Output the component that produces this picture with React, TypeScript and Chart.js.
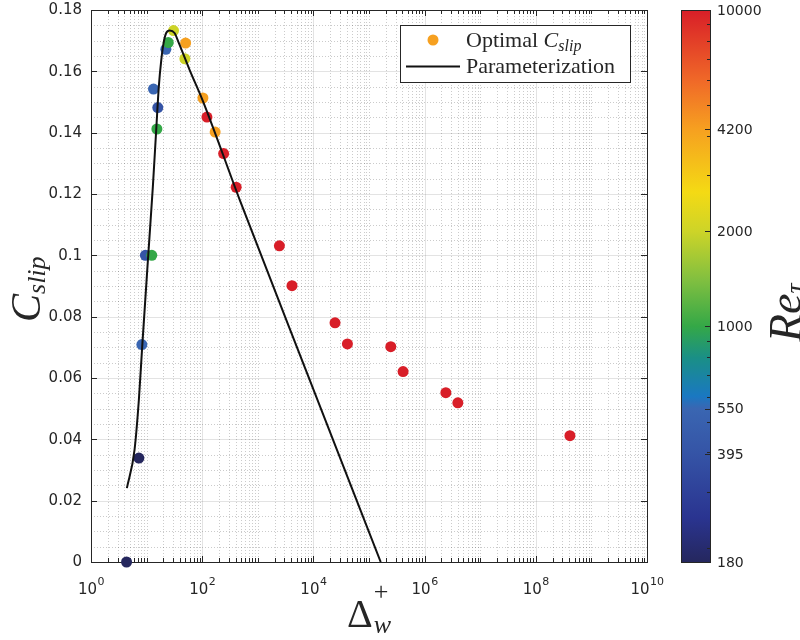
import React, { useEffect, useRef } from 'react';
import { Chart, registerables } from 'chart.js';
Chart.register(...registerables);

// ---- data ----
const deltaW = [4.36, 7.26, 8.22, 9.5, 12.4, 15.3, 15.9, 13.3, 22.2, 24.5, 30.5, 50.3, 48.8, 103, 121.6, 171, 243, 408, 2445, 4120, 24500, 40900, 246500, 410000, 2.41e6, 3.96e6, 4.11e8];
const cSlip = [0, 0.0339, 0.0709, 0.1, 0.1, 0.1412, 0.1482, 0.1542, 0.1672, 0.1694, 0.1733, 0.1692, 0.1641, 0.1513, 0.1451, 0.1402, 0.1332, 0.1222, 0.1031, 0.0901, 0.078, 0.0711, 0.0702, 0.0621, 0.0552, 0.0519, 0.0412];
const reTau = [180, 180, 550, 395, 1000, 1000, 395, 550, 550, 1000, 2000, 4200, 2000, 4200, 10000, 4200, 10000, 10000, 10000, 10000, 10000, 10000, 10000, 10000, 10000, 10000, 10000];

const paramX = [4.42, 6.07, 7.26, 8.34, 10.7, 12.97, 14.9, 16.6, 18.4, 20.2, 22.5, 25.9, 31.8, 38.1, 59.3, 100.5, 471, 8570, 162500];
const paramC = [0.0241, 0.0366, 0.0529, 0.0703, 0.1, 0.1225, 0.141, 0.1551, 0.1638, 0.1692, 0.1725, 0.1733, 0.1725, 0.1692, 0.1605, 0.1508, 0.1182, 0.0594, 0];

const yTicks = [0, 0.02, 0.04, 0.06, 0.08, 0.1, 0.12, 0.14, 0.16, 0.18];
const yTickLabels = ['0', '0.02', '0.04', '0.06', '0.08', '0.1', '0.12', '0.14', '0.16', '0.18'];
const xTickExps = [0, 2, 4, 6, 8, 10];
const cbTicks = [180, 395, 550, 1000, 2000, 4200, 10000];
const cbMin = 180;
const cbMax = 10000;

// colormap stops (fraction along log colorbar, colour)
const cmapPos = [0, 0.08, 0.196, 0.278, 0.3, 0.37, 0.427, 0.51, 0.599, 0.67, 0.784, 0.87, 1];
const cmapCol = ['#25275e', '#2a3490', '#3554a6', '#3a66b2', '#1a78c2', '#1a8f86', '#34a847', '#80bf40', '#cdd428', '#f4da14', '#f6a020', '#f06a28', '#d81e28'];

const legendLabels = ['Optimal ', 'Parameterization'];

function hexToRgb(h: string) {
  const n = parseInt(h.slice(1), 16);
  return [(n >> 16) & 255, (n >> 8) & 255, n & 255];
}
function cmap(re: number) {
  const t = (Math.log10(re) - Math.log10(cbMin)) / (Math.log10(cbMax) - Math.log10(cbMin));
  for (let i = 0; i < cmapPos.length - 1; i++) {
    if (t <= cmapPos[i + 1]) {
      const f = (t - cmapPos[i]) / (cmapPos[i + 1] - cmapPos[i]);
      const a = hexToRgb(cmapCol[i]);
      const b = hexToRgb(cmapCol[i + 1]);
      const c = a.map((v, k) => Math.round(v + (b[k] - v) * f));
      return `rgb(${c[0]},${c[1]},${c[2]})`;
    }
  }
  return cmapCol[cmapCol.length - 1];
}

const TXT = '#262626';
const SERIF = '"Liberation Serif", "DejaVu Serif", serif';
const SANS = '"DejaVu Sans", sans-serif';

const decor = {
  id: 'decor',
  beforeDatasetsDraw(chart: any) {
    const ctx = chart.ctx;
    const a = chart.chartArea;
    const xs = chart.scales.x;
    const ys = chart.scales.y;
    ctx.save();
    // minor grid
    ctx.strokeStyle = 'rgba(38,38,38,0.24)';
    ctx.lineWidth = 1;
    ctx.setLineDash([1, 2]);
    for (let e = 0; e < 10; e++) {
      for (let k = 1; k <= 9; k++) {
        if (k === 1 && e % 2 === 0) continue;
        const px = Math.round(xs.getPixelForValue(k * Math.pow(10, e))) + 0.5;
        ctx.beginPath(); ctx.moveTo(px, a.top); ctx.lineTo(px, a.bottom); ctx.stroke();
      }
    }
    for (let i = 1; i < 36; i++) {
      if (i % 4 === 0) continue;
      const py = Math.round(ys.getPixelForValue(i * 0.005)) + 0.5;
      ctx.beginPath(); ctx.moveTo(a.left, py); ctx.lineTo(a.right, py); ctx.stroke();
    }
    ctx.setLineDash([]);
    // major grid
    ctx.strokeStyle = 'rgba(38,38,38,0.13)';
    for (const e of xTickExps) {
      const px = Math.round(xs.getPixelForValue(Math.pow(10, e))) + 0.5;
      ctx.beginPath(); ctx.moveTo(px, a.top); ctx.lineTo(px, a.bottom); ctx.stroke();
    }
    for (const v of yTicks) {
      const py = Math.round(ys.getPixelForValue(v)) + 0.5;
      ctx.beginPath(); ctx.moveTo(a.left, py); ctx.lineTo(a.right, py); ctx.stroke();
    }
    // ticks
    ctx.strokeStyle = TXT;
    for (let e = 0; e <= 10; e++) {
      for (let k = 1; k <= 9; k++) {
        if (e === 10 && k > 1) break;
        const major = k === 1 && e % 2 === 0;
        const len = major ? 6 : 4;
        const px = Math.round(xs.getPixelForValue(k * Math.pow(10, e))) + 0.5;
        ctx.beginPath();
        ctx.moveTo(px, a.bottom); ctx.lineTo(px, a.bottom - len);
        ctx.moveTo(px, a.top); ctx.lineTo(px, a.top + len);
        ctx.stroke();
      }
    }
    for (const v of yTicks) {
      const py = Math.round(ys.getPixelForValue(v)) + 0.5;
      ctx.beginPath();
      ctx.moveTo(a.left, py); ctx.lineTo(a.left + 6, py);
      ctx.moveTo(a.right, py); ctx.lineTo(a.right - 6, py);
      ctx.stroke();
    }
    // frame
    ctx.strokeStyle = TXT;
    ctx.lineWidth = 1;
    ctx.strokeRect(Math.round(a.left) + 0.5, Math.round(a.top) + 0.5, Math.round(a.right - a.left), Math.round(a.bottom - a.top));
    ctx.restore();
  },
  afterDraw(chart: any) {
    const ctx = chart.ctx;
    const a = chart.chartArea;
    const xs = chart.scales.x;
    const ys = chart.scales.y;
    const cb = chart.scales.cb;
    ctx.save();
    ctx.fillStyle = TXT;
    // y tick labels
    ctx.font = `15px ${SANS}`;
    ctx.textAlign = 'right';
    ctx.textBaseline = 'middle';
    yTicks.forEach((v, i) => {
      ctx.fillText(yTickLabels[i], a.left - 9, ys.getPixelForValue(v) + 0.5);
    });
    // x tick labels with superscripts
    ctx.textBaseline = 'alphabetic';
    ctx.textAlign = 'left';
    for (const e of xTickExps) {
      const px = xs.getPixelForValue(Math.pow(10, e));
      ctx.font = `15px ${SANS}`;
      const w1 = ctx.measureText('10').width;
      ctx.font = `11px ${SANS}`;
      const w2 = ctx.measureText(String(e)).width;
      const x0 = px - (w1 + w2) / 2;
      ctx.font = `15px ${SANS}`;
      ctx.fillText('10', x0, 594);
      ctx.font = `11px ${SANS}`;
      ctx.fillText(String(e), x0 + w1 + 0.5, 585);
    }
    // x title  Δ_w^+
    ctx.font = `40px ${SERIF}`;
    const wD = ctx.measureText('\u0394').width;
    ctx.fillText('\u0394', 347, 627);
    ctx.font = `italic 26px ${SERIF}`;
    ctx.fillText('w', 347 + wD + 1, 633);
    ctx.font = `26px ${SERIF}`;
    ctx.fillText('+', 347 + wD + 1, 600);
    // y title C_slip
    ctx.save();
    ctx.translate(40, 322);
    ctx.rotate(-Math.PI / 2);
    ctx.font = `italic 42px ${SERIF}`;
    const wC = ctx.measureText('C').width;
    ctx.fillText('C', 0, 0);
    ctx.font = `italic 26px ${SERIF}`;
    ctx.fillText('slip', wC, 5);
    ctx.restore();
    // colorbar
    const top = cb.getPixelForValue(cbMax);
    const bot = cb.getPixelForValue(cbMin);
    const bx = Math.round(cb.left) + 34;
    const bw = 29;
    const g = ctx.createLinearGradient(0, bot, 0, top);
    cmapPos.forEach((p, i) => g.addColorStop(p, cmapCol[i]));
    ctx.fillStyle = g;
    ctx.fillRect(bx, top, bw, bot - top);
    ctx.strokeStyle = TXT;
    ctx.lineWidth = 1;
    ctx.strokeRect(bx + 0.5, Math.round(top) + 0.5, bw, Math.round(bot - top));
    const minor: number[] = [];
    for (let k = 2; k <= 9; k++) { minor.push(k * 100); minor.push(k * 1000); }
    for (const v of minor) {
      const py = Math.round(cb.getPixelForValue(v)) + 0.5;
      ctx.beginPath(); ctx.moveTo(bx + bw, py); ctx.lineTo(bx + bw - 3, py); ctx.stroke();
    }
    ctx.fillStyle = TXT;
    ctx.font = `14px ${SANS}`;
    ctx.textBaseline = 'middle';
    for (const v of cbTicks) {
      const py = cb.getPixelForValue(v);
      ctx.beginPath(); ctx.moveTo(bx + bw, Math.round(py) + 0.5); ctx.lineTo(bx + bw - 5, Math.round(py) + 0.5); ctx.stroke();
      ctx.fillText(String(v), bx + bw + 7, py + 1);
    }
    // colorbar title Re_tau
    ctx.textBaseline = 'alphabetic';
    ctx.save();
    ctx.translate(801, 342);
    ctx.rotate(-Math.PI / 2);
    ctx.font = `italic 46px ${SERIF}`;
    const wRe = ctx.measureText('Re').width;
    ctx.fillText('Re', 0, 0);
    ctx.font = `italic 28px ${SERIF}`;
    ctx.fillText('\u03C4', wRe, 3);
    ctx.restore();
    // legend
    const lx = 400.5, ly = 25.5, lw = 230, lh = 57;
    ctx.fillStyle = '#ffffff';
    ctx.fillRect(lx, ly, lw, lh);
    ctx.strokeStyle = TXT;
    ctx.strokeRect(lx, ly, lw, lh);
    ctx.fillStyle = cmap(4200);
    ctx.beginPath(); ctx.arc(433, 40, 5.5, 0, Math.PI * 2); ctx.fill();
    ctx.strokeStyle = '#111';
    ctx.lineWidth = 2;
    ctx.beginPath(); ctx.moveTo(406, 66.5); ctx.lineTo(460, 66.5); ctx.stroke();
    ctx.fillStyle = TXT;
    ctx.font = `22px ${SERIF}`;
    ctx.fillText(legendLabels[0], 466, 47);
    const wO = ctx.measureText(legendLabels[0]).width;
    ctx.font = `italic 22px ${SERIF}`;
    ctx.fillText('C', 466 + wO, 47);
    const wC2 = ctx.measureText('C').width;
    ctx.font = `italic 16px ${SERIF}`;
    ctx.fillText('slip', 466 + wO + wC2, 51);
    ctx.font = `22px ${SERIF}`;
    ctx.fillText(legendLabels[1], 466, 73);
    ctx.restore();
  },
};

export default function App() {
  const ref = useRef<HTMLCanvasElement>(null);
  useEffect(() => {
    const chart = new Chart(ref.current as HTMLCanvasElement, {
      type: 'scatter',
      data: {
        datasets: [
          {
            type: 'line',
            label: 'Parameterization',
            data: paramX.map((x, i) => ({ x, y: paramC[i] })),
            borderColor: '#111111',
            borderWidth: 2,
            pointRadius: 0,
            fill: false,
            cubicInterpolationMode: 'monotone',
            xAxisID: 'x',
            yAxisID: 'y',
          } as any,
          {
            type: 'scatter',
            label: 'Optimal C_slip',
            data: deltaW.map((x, i) => ({ x, y: cSlip[i] })),
            backgroundColor: reTau.map((r) => cmap(r)),
            borderWidth: 0,
            pointRadius: 5.5,
            pointHoverRadius: 5.5,
            clip: false,
            xAxisID: 'x',
            yAxisID: 'y',
          } as any,
        ],
      },
      options: {
        responsive: false,
        animation: false,
        devicePixelRatio: 1,
        layout: { padding: { top: 10, left: 0, right: 0, bottom: 0 } },
        plugins: { legend: { display: false }, tooltip: { enabled: false } },
        events: [],
        scales: {
          x: {
            type: 'logarithmic', min: 1, max: 1e10, position: 'bottom',
            ticks: { display: false }, grid: { display: false }, border: { display: false },
            afterFit: (s: any) => { s.height = 78; },
          },
          y: {
            type: 'linear', min: 0, max: 0.18, position: 'left',
            ticks: { display: false, stepSize: 0.02 },
            grid: { display: false }, border: { display: false },
            afterFit: (s: any) => { s.width = 91; },
          },
          cb: {
            type: 'logarithmic', min: cbMin, max: cbMax, position: 'right',
            ticks: { display: false }, grid: { display: false }, border: { display: false },
            afterFit: (s: any) => { s.width = 153; },
          },
        },
      } as any,
      plugins: [decor],
    });
    return () => chart.destroy();
  }, []);
  return (
    <div style={{ position: 'fixed', left: 0, top: 0, width: 800, height: 640, background: '#fff' }}>
      <canvas ref={ref} width={800} height={640} />
    </div>
  );
}
